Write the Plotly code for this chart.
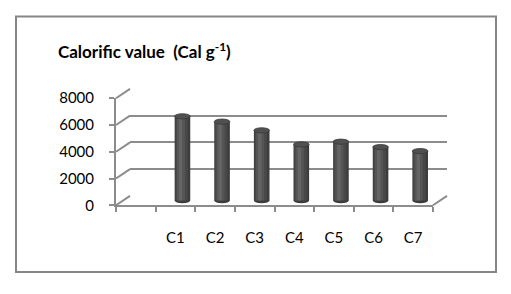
import plotly.graph_objects as go

# ---- data ----
categories = ["C1", "C2", "C3", "C4", "C5", "C6", "C7"]
values = [6300, 5900, 5250, 4200, 4400, 4000, 3700]
y_ticks = [0, 2000, 4000, 6000, 8000]
y_max = 8000
title_text = "<b>Calorific value&nbsp; (Cal g<sup>-1</sup>)</b>"

# ---- layout geometry (pixels in the 511x294 window) ----
W, H = 511, 294
FX0, FX1, FY0, FY1 = 116, 433, 208, 94   # front plane box
DX, DY = 14, 10                           # depth offset of back wall
EXT = 4                                   # extra px below 0 for cylinder bottoms


def px(x):
    return x / W


def py(y):
    return 1 - y / H


n = len(categories)
idx = list(range(n))
x_range = [-1.5, n - 0.5]
slot_px = (FX1 - FX0) / (x_range[1] - x_range[0])
bar_w = 15.6 / slot_px
grid_c = "#8c8c8c"

fig = go.Figure()

# invisible carriers so the front and back subplots get drawn
fig.add_trace(go.Scatter(x=idx, y=values, mode="markers", marker=dict(opacity=0),
                         xaxis="x", yaxis="y", showlegend=False, hoverinfo="skip"))
fig.add_trace(go.Scatter(x=idx, y=values, mode="markers", marker=dict(opacity=0),
                         xaxis="x2", yaxis="y2", showlegend=False, hoverinfo="skip"))

# cylinders (layered bars for shading) on middle-depth subplot
layers = [
    (1.0, 0.0, "#3c3c3c"),
    (0.80, -0.05, "#484848"),
    (0.52, -0.10, "#555555"),
    (0.22, -0.12, "#646464"),
]
for frac, shift, col in layers:
    w = bar_w * frac
    fig.add_trace(go.Bar(
        x=categories, y=values, width=w, offset=-w / 2 + shift * bar_w,
        marker=dict(color=col, line=dict(width=0)),
        xaxis="x3", yaxis="y3", showlegend=False, hoverinfo="skip",
    ))

shapes = []
half_w = bar_w * slot_px / 2
for i, v in enumerate(values):
    # bottom ellipse
    shapes.append(dict(type="circle", xref="x3", yref="y3", layer="below",
                       xsizemode="pixel", ysizemode="pixel",
                       xanchor=i, yanchor=0, x0=-half_w, x1=half_w, y0=-2.6, y1=2.6,
                       fillcolor="#3c3c3c", line=dict(width=0)))
    # top ellipse
    shapes.append(dict(type="circle", xref="x3", yref="y3",
                       xsizemode="pixel", ysizemode="pixel",
                       xanchor=i, yanchor=v, x0=-half_w, x1=half_w, y0=-2.6, y1=2.6,
                       fillcolor="#505050", line=dict(color="#383838", width=0.8)))

# diagonal connectors on the left wall (from axis scale)
for t in y_ticks:
    yf = FY0 - t / y_max * (FY0 - FY1)
    shapes.append(dict(type="line", xref="paper", yref="paper",
                       x0=px(FX0), y0=py(yf), x1=px(FX0 + DX), y1=py(yf - DY),
                       line=dict(color=grid_c, width=2)))
# floor right edge
shapes.append(dict(type="line", xref="paper", yref="paper",
                   x0=px(FX1), y0=py(FY0), x1=px(FX1 + DX), y1=py(FY0 - DY),
                   line=dict(color=grid_c, width=2)))
# outer border
shapes.append(dict(type="rect", xref="paper", yref="paper",
                   x0=px(16), y0=py(279), x1=px(496), y1=py(7),
                   line=dict(color="#868686", width=2), fillcolor="rgba(0,0,0,0)"))

font = dict(family="Lato, Carlito, sans-serif", size=15, color="black")

fig.update_layout(
    width=W, height=H,
    margin=dict(l=0, r=0, t=0, b=0),
    paper_bgcolor="white", plot_bgcolor="rgba(0,0,0,0)",
    barmode="overlay",
    font=font,
    showlegend=False,
    title=dict(text=title_text, xref="paper", yref="paper",
               x=px(58), y=py(45), xanchor="left", yanchor="middle",
               font=dict(family="Lato, sans-serif", size=17, color="black")),
    # front plane: labels, axis lines, ticks
    xaxis=dict(domain=[px(FX0), px(FX1)], range=x_range, type="linear", anchor="y",
               tickmode="array", tickvals=idx, ticktext=categories,
               ticks="", showline=True, linecolor=grid_c, linewidth=2,
               showgrid=False, zeroline=False, ticklabelstandoff=18,
               minor=dict(tickmode="array",
                          tickvals=[i - 0.5 for i in range(-1, n + 1)],
                          ticks="outside", ticklen=5, tickwidth=2, tickcolor=grid_c,
                          showgrid=False),
               fixedrange=True),
    yaxis=dict(domain=[py(FY0), py(FY1)], range=[0, y_max], anchor="x",
               tickmode="array", tickvals=y_ticks,
               ticks="outside", ticklen=5, tickwidth=2, tickcolor=grid_c,
               showline=True, linecolor=grid_c, linewidth=2,
               showgrid=False, zeroline=False, ticklabelstandoff=12,
               fixedrange=True),
    # back wall: gridlines
    xaxis2=dict(domain=[px(FX0 + DX), px(FX1 + DX)], range=x_range, anchor="y2",
                showgrid=False, showticklabels=False, showline=False, zeroline=False,
                ticks="", fixedrange=True),
    yaxis2=dict(domain=[py(FY0 - DY), py(FY1 - DY)], range=[0, y_max], anchor="x2",
                tickmode="array", tickvals=y_ticks,
                showgrid=True, gridcolor=grid_c, gridwidth=2,
                showticklabels=False, showline=False, zeroline=False, ticks="",
                fixedrange=True),
    # middle depth: cylinders
    xaxis3=dict(domain=[px(FX0 + DX / 2), px(FX1 + DX / 2)], range=x_range,
                type="category", anchor="y3",
                visible=False, fixedrange=True),
    yaxis3=dict(domain=[py(FY0 - DY / 2 + EXT), py(FY1 - DY / 2)],
                range=[-EXT * y_max / (FY0 - FY1), y_max], anchor="x3",
                visible=False, fixedrange=True),
    shapes=shapes,
)

fig.write_html("out.html",
               config={"displayModeBar": False, "staticPlot": True},
               post_script="document.body.style.margin='0';"
                           "document.body.style.overflow='hidden';")
